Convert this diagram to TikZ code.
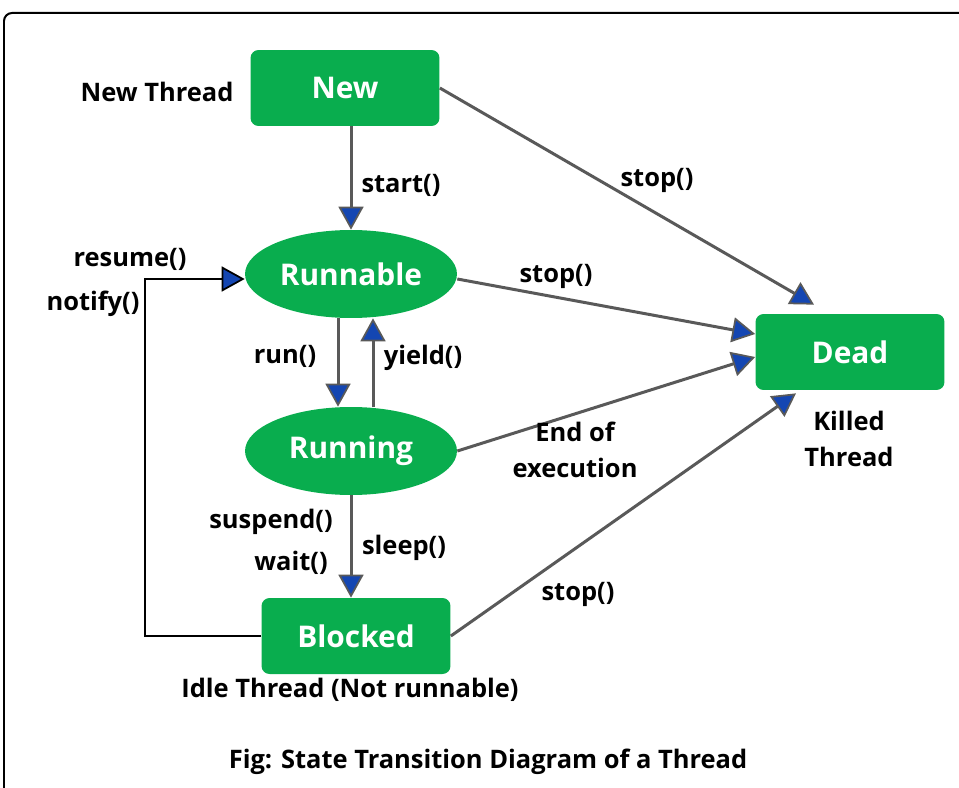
\documentclass[tikz,border=0pt]{standalone}
\usepackage{fontspec}
\setmainfont{Open Sans}
\usepackage{tikz}
\usetikzlibrary{arrows.meta,shapes.geometric}

\definecolor{stategreen}{RGB}{9,173,78}
\definecolor{linegray}{RGB}{89,89,89}
\definecolor{tipblue}{RGB}{20,70,178}

\tikzset{
	state/.style={rectangle,rounded corners=0.16cm,fill=stategreen,text=white,
		minimum width=3.78cm,minimum height=1.52cm,inner sep=0pt,
		font=\bfseries\fontsize{17}{20}\selectfont},
	oval/.style={ellipse,fill=stategreen,text=white,
		minimum width=4.24cm,minimum height=1.76cm,inner sep=0pt,
		font=\bfseries\fontsize{17}{20}\selectfont},
	lbl/.style={align=center,inner sep=0pt,font=\bfseries\fontsize{14.5}{20.4}\selectfont},
	trans/.style={draw=linegray,line width=0.06cm,
		-{Triangle[length=0.46cm,width=0.5cm,line width=0.035cm,fill=tipblue]}},
	back/.style={draw=black,line width=0.055cm,
		-{Triangle[length=0.46cm,width=0.5cm,line width=0.035cm,fill=tipblue]}},
}

\begin{document}
\begin{tikzpicture}[x=0.02cm,y=-0.02cm]
		\clip (0,0) rectangle (959,787);
%		\draw[help lines,step=50] (0,0) grid (959,787);
		\draw[line width=0.04cm,rounded corners=0.16cm] (4,13) rectangle (1000,830);

		% states
		\path (345,88) node(new) [state] {New};
		\path (351,274) node(runnable) [oval] {Runnable};
		\path (351,451) node(running) [oval] {Running};
		\path (356,636) node(blocked) [state] {Blocked};
		\path (850,352) node(dead) [state] {Dead};
		\path (145,450) coordinate (left_turn);

		% texts beside the states
		\path (157,92) node(new_thread) [lbl] {New Thread};
		\path (849,439) node(killed) [lbl] {Killed\\Thread};
		\path (350,690) node(idle) [lbl] {Idle Thread (Not runnable)};
		\path (488,762) node(caption) [lbl] {Fig: State Transition Diagram of a Thread};

		% transitions
		\draw[trans] (new.south -| runnable.north) -- (runnable.north);
		\draw[trans] ([xshift=-0.26cm]runnable.south) -- ([xshift=-0.26cm]running.north);
		\draw[trans] ([xshift=0.44cm]running.north) -- ([xshift=0.44cm]runnable.south);
		\draw[trans] (running.south) -- (running.south |- blocked.north);
		\draw[back] (blocked.west) -| (left_turn) |- ([yshift=-0.1cm]runnable.west);
		\draw[trans] (new.east) -- ([shift={(-36,-9)}]dead.north);
		\draw[trans] ([yshift=-0.1cm]runnable.east) -- ([yshift=0.36cm]dead.west);
		\draw[trans] (running.east) -- ([yshift=-0.1cm]dead.west);
		\draw[trans] (blocked.east) -- ([shift={(-54,3)}]dead.south);

		% transition names
		\path (401,185) node(start) [lbl] {start()};
		\path (657,180) node(stop_new) [lbl] {stop()};
		\path (556,276) node(stop_runnable) [lbl] {stop()};
		\path (285,356) node(run) [lbl] {run()};
		\path (423,358) node(yield) [lbl] {yield()};
		\path (575,450) node(end_exec) [lbl] {End of\\execution};
		\path (271,522) node(suspend) [lbl] {suspend()};
		\path (291,563) node(wait) [lbl] {wait()};
		\path (404,548) node(sleep) [lbl] {sleep()};
		\path (578,594) node(stop_blocked) [lbl] {stop()};
		\path (130,259) node(resume) [lbl] {resume()};
		\path (93,304) node(notify) [lbl] {notify()};
	\end{tikzpicture}
\end{document}
